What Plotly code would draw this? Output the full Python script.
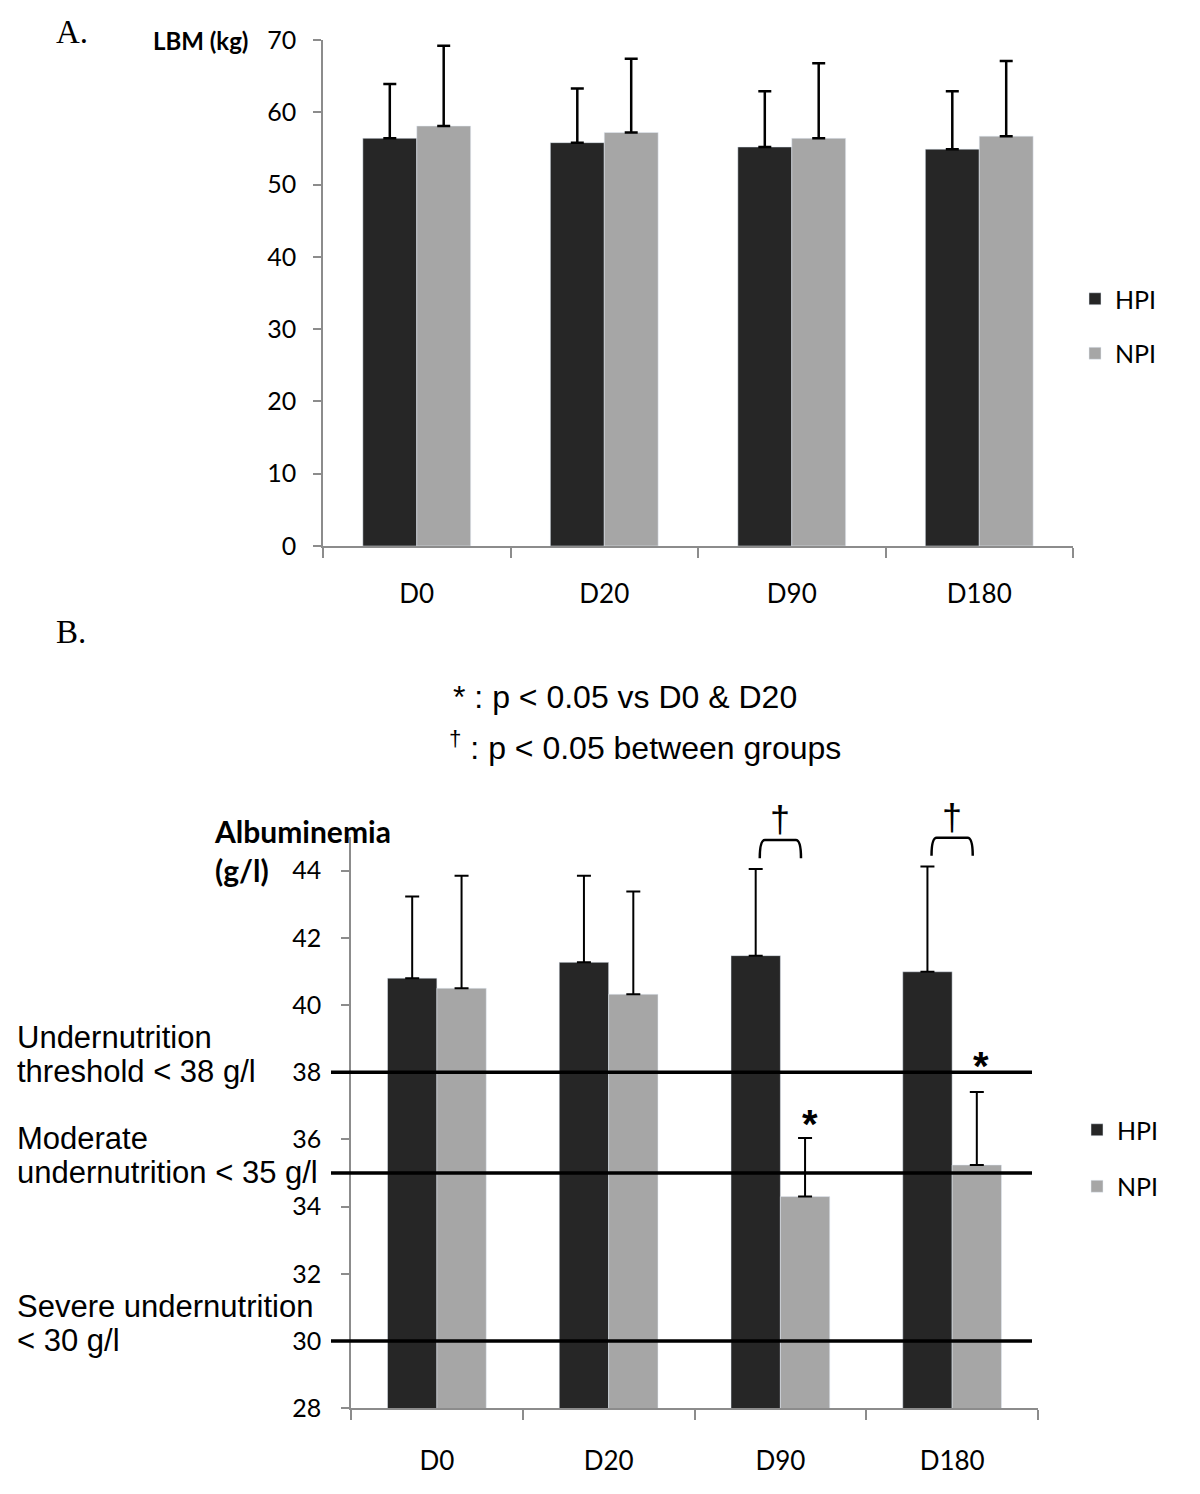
import plotly.graph_objects as go

days = ["D0", "D20", "D90", "D180"]

# Panel A: lean body mass (kg)
lbm_hpi = [56.4, 55.8, 55.2, 54.9]
lbm_hpi_sd = [7.5, 7.5, 7.7, 8.0]
lbm_npi = [58.1, 57.2, 56.4, 56.7]
lbm_npi_sd = [11.1, 10.2, 10.4, 10.4]

# Panel B: albuminemia (g/l)
alb_hpi = [40.8, 41.27, 41.47, 40.99]
alb_hpi_sd = [2.43, 2.58, 2.58, 3.13]
alb_npi = [40.5, 40.32, 34.3, 35.24]
alb_npi_sd = [3.35, 3.06, 1.74, 2.17]

thresholds = [38, 35, 30]
threshold_labels = [("Undernutrition", "threshold < 38 g/l"),
                    ("Moderate", "undernutrition < 35 g/l"),
                    ("Severe undernutrition", "< 30 g/l")]
star_days = [2, 3]          # NPI significantly different vs D0 & D20
dagger_days = [2, 3]        # between-group difference

DARK = "#262626"
GRAY = "#a6a6a6"
AXC = "#8c8c8c"
W, H = 1200, 1494
OFF = 8  # page body margin


def px(x):
    return (x - OFF) / W


def py(y):
    return 1 - (y - OFF) / H


A_dom_x = [px(323), px(1073)]
A_dom_y = [py(546), py(40)]
B_dom_x = [px(351), px(1038)]
B_dom_y = [py(1408.3), py(837)]
B_range = [28, 45]


def b_paper(v):
    return B_dom_y[0] + (v - B_range[0]) / (B_range[1] - B_range[0]) * (B_dom_y[1] - B_dom_y[0])


fig = go.Figure()

err_a = dict(thickness=2.5, width=6.5, color="black")
fig.add_trace(go.Bar(x=days, y=lbm_hpi, name="HPI", marker_color=DARK, xaxis="x", yaxis="y",
                     error_y=dict(type="data", symmetric=False, array=lbm_hpi_sd,
                                  arrayminus=[0] * 4, **err_a),
                     legend="legend", legendgroup="a1"))
fig.add_trace(go.Bar(x=days, y=lbm_npi, name="NPI", marker_color=GRAY, xaxis="x", yaxis="y",
                     error_y=dict(type="data", symmetric=False, array=lbm_npi_sd,
                                  arrayminus=[0] * 4, **err_a),
                     legend="legend", legendgroup="a2"))

err_b = dict(thickness=2, width=7, color="black")
fig.add_trace(go.Bar(x=days, y=alb_hpi, name="HPI", marker_color=DARK, xaxis="x2", yaxis="y2",
                     error_y=dict(type="data", symmetric=False, array=alb_hpi_sd,
                                  arrayminus=[0] * 4, **err_b),
                     legend="legend2", legendgroup="b1"))
fig.add_trace(go.Bar(x=days, y=alb_npi, name="NPI", marker_color=GRAY, xaxis="x2", yaxis="y2",
                     error_y=dict(type="data", symmetric=False, array=alb_npi_sd,
                                  arrayminus=[0] * 4, **err_b),
                     legend="legend2", legendgroup="b2"))

tickfont = dict(family="Lato", size=25, color="black")
catfont = dict(family="Lato", size=26, color="black")
axis_common = dict(showline=True, linecolor=AXC, linewidth=1.5, ticks="outside",
                   tickcolor=AXC, tickwidth=1.5, showgrid=False, zeroline=False,
                   automargin=False)

fig.update_layout(
    width=W, height=H,
    margin=dict(l=0, r=0, t=0, b=0, pad=0, autoexpand=False),
    paper_bgcolor="white", plot_bgcolor="white",
    barmode="group", bargap=0.425, bargroupgap=0,
    xaxis=dict(domain=A_dom_x, anchor="y", tickson="boundaries", ticklen=10,
               tickfont=catfont, ticklabelstandoff=24, **axis_common),
    yaxis=dict(domain=A_dom_y, anchor="x", range=[0, 70], dtick=10, tick0=0, ticklen=8,
               tickfont=tickfont, ticklabelstandoff=12, **axis_common),
    xaxis2=dict(domain=B_dom_x, anchor="y2", tickson="boundaries", ticklen=10,
                tickfont=catfont, ticklabelstandoff=29, **axis_common),
    yaxis2=dict(domain=B_dom_y, anchor="x2", range=B_range, dtick=2, tick0=28, ticklen=8,
                tickfont=tickfont, ticklabelstandoff=15, **axis_common),
    legend=dict(x=px(1075), y=py(276), xanchor="left", yanchor="top",
                font=dict(family="Lato", size=25, color="black"), tracegroupgap=19,
                bgcolor="rgba(0,0,0,0)"),
    legend2=dict(x=px(1077), y=py(1107), xanchor="left", yanchor="top",
                 font=dict(family="Lato", size=25, color="black"), tracegroupgap=21,
                 bgcolor="rgba(0,0,0,0)"),
    showlegend=True,
)

shapes = []
for t in thresholds:
    shapes.append(dict(type="line", xref="x2 domain", yref="y2",
                       x0=(331 - 351) / 687, x1=(1032 - 351) / 687, y0=t, y1=t,
                       line=dict(color="black", width=3.5), layer="above"))

annotations = []
label_font = dict(family="Liberation Sans", size=31, color="black")
for t, (l1, l2) in zip(thresholds, threshold_labels):
    annotations.append(dict(text=l1, xref="paper", yref="y2", x=px(15), y=t, yshift=35,
                            xanchor="left", yanchor="middle", align="left", showarrow=False,
                            font=label_font))
    annotations.append(dict(text=l2, xref="paper", yref="y2", x=px(15), y=t, yshift=1,
                            xanchor="left", yanchor="middle", align="left", showarrow=False,
                            font=label_font))

# Brackets and daggers for between-group differences
for i in dagger_days:
    top_err = alb_hpi[i] + alb_hpi_sd[i]
    yb = b_paper(top_err + 0.32)
    yt = b_paper(top_err + 0.86)
    x0, x1, dx = i - 0.12, i + 0.12, 0.03
    path = (f"M {x0},{yb} Q {x0},{yt} {x0 + dx},{yt} L {x1 - dx},{yt} "
            f"Q {x1},{yt} {x1},{yb}")
    shapes.append(dict(type="path", xref="x2", yref="paper", path=path,
                       line=dict(color="black", width=2.5)))
    annotations.append(dict(text="†", xref="x2", yref="paper", x=i, y=yt, yanchor="bottom",
                            xanchor="center", showarrow=False, yshift=-2,
                            font=dict(family="Liberation Sans", size=36, color="black")))

# Asterisks above NPI bars
star_offsets = [-0.3, 0.07]
for i, off in zip(star_days, star_offsets):
    annotations.append(dict(text="<b>*</b>", xref="x2", yref="y2", x=i + 0.17,
                            y=alb_npi[i] + alb_npi_sd[i] + off, yanchor="bottom",
                            xanchor="center", showarrow=False,
                            font=dict(family="Liberation Sans", size=40, color="black")))

annotations += [
    dict(text="A.", xref="paper", yref="paper", x=px(54), y=py(32), xanchor="left",
         yanchor="middle", showarrow=False,
         font=dict(family="Liberation Serif", size=33, color="black")),
    dict(text="B.", xref="paper", yref="paper", x=px(54), y=py(632), xanchor="left",
         yanchor="middle", showarrow=False,
         font=dict(family="Liberation Serif", size=33, color="black")),
    dict(text="<b>LBM (kg)</b>", xref="paper", yref="paper", x=px(250), y=py(40),
         xanchor="right", yanchor="middle", showarrow=False,
         font=dict(family="Lato", size=24, color="black")),
    dict(text="<b>Albuminemia<br>(g/l)</b>", xref="paper", yref="paper", x=px(212),
         y=py(850), xanchor="left", yanchor="middle", align="left", showarrow=False,
         font=dict(family="Lato", size=30, color="black")),
    dict(text="* : p < 0.05 vs D0 & D20", xref="paper", yref="paper", x=px(625),
         y=py(697), xanchor="center", yanchor="middle", showarrow=False,
         font=dict(family="Liberation Sans", size=32, color="black")),
    dict(text="<sup>†</sup> : p < 0.05 between groups", xref="paper", yref="paper",
         x=px(645), y=py(746), xanchor="center", yanchor="middle", showarrow=False,
         font=dict(family="Liberation Sans", size=32, color="black")),
]

fig.update_layout(shapes=shapes, annotations=annotations)
fig.write_html("out.html")
